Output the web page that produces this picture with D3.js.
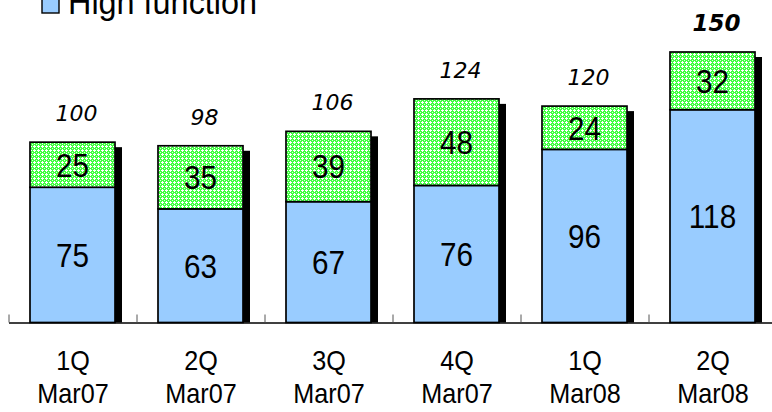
<!DOCTYPE html>
<html>
<head>
<meta charset="utf-8">
<script src="https://cdn.jsdelivr.net/npm/d3@7"></script>
<style>
  html, body { margin: 0; padding: 0; background: #fff; }
  svg { display: block; }
</style>
</head>
<body>
<svg id="chart" width="772" height="412"></svg>
<script>
// Quarterly counts, split into high-function (bottom) and the remainder (top)
const quarters = ["1Q", "2Q", "3Q", "4Q", "1Q", "2Q"];
const periods = ["Mar07", "Mar07", "Mar07", "Mar07", "Mar08", "Mar08"];
const highFunction = [75, 63, 67, 76, 96, 118];
const otherFunction = [25, 35, 39, 48, 24, 32];
const totals = [100, 98, 106, 124, 120, 150];

const svg = d3.select("#chart");
const keys = quarters.map((q, i) => i);

const x = d3.scaleBand().domain(keys).range([9, 777]).padding(0);
const y = d3.scaleLinear().domain([0, 150]).range([322.5, 52]);

const barOffset = 21, barWidth = 85;
const shadowDx = 7, shadowDy = 5;
const squeeze = 0.9; // horizontal condensing of the label type

// Lattice fill for the upper segment
const defs = svg.append("defs");
const pat = defs.append("pattern")
  .attr("id", "lattice")
  .attr("patternUnits", "userSpaceOnUse")
  .attr("width", 4).attr("height", 4);
pat.append("rect").attr("width", 4).attr("height", 4).attr("fill", "#40ff40");
pat.append("rect").attr("x", 1).attr("y", 2).attr("width", 3).attr("height", 1).attr("fill", "#ffffff");
pat.append("rect").attr("x", 2).attr("y", 1).attr("width", 1).attr("height", 3).attr("fill", "#ffffff");
pat.append("rect").attr("x", 0).attr("y", 0).attr("width", 1).attr("height", 1).attr("fill", "#d8ffd8");

const rows = keys.map(i => ({
  i, high: highFunction[i], other: otherFunction[i], total: totals[i]
}));

// Drop shadows
svg.append("g").selectAll("rect").data(rows).join("rect")
  .attr("x", d => x(d.i) + barOffset + shadowDx)
  .attr("y", d => y(d.high + d.other) + shadowDy)
  .attr("width", barWidth)
  .attr("height", d => y(0) - y(d.high + d.other) - shadowDy)
  .attr("fill", "#000");

// Lower segment
svg.append("g").selectAll("rect").data(rows).join("rect")
  .attr("x", d => x(d.i) + barOffset)
  .attr("y", d => y(d.high))
  .attr("width", barWidth)
  .attr("height", d => y(0) - y(d.high))
  .attr("fill", "#99ccff")
  .attr("stroke", "#000").attr("stroke-width", 1.7);

// Upper segment
svg.append("g").selectAll("rect").data(rows).join("rect")
  .attr("x", d => x(d.i) + barOffset)
  .attr("y", d => y(d.high + d.other))
  .attr("width", barWidth)
  .attr("height", d => y(d.high) - y(d.high + d.other))
  .attr("fill", "url(#lattice)")
  .attr("stroke", "#000").attr("stroke-width", 1.7);

// Axis line and ticks at band edges
svg.append("line")
  .attr("x1", x(0)).attr("x2", 772)
  .attr("y1", y(0) + 0.5).attr("y2", y(0) + 0.5)
  .attr("stroke", "#000").attr("stroke-width", 1.5);
svg.append("g").selectAll("line").data(keys).join("line")
  .attr("x1", d => x(d)).attr("x2", d => x(d))
  .attr("y1", y(0) - 8).attr("y2", y(0))
  .attr("stroke", "#555").attr("stroke-width", 1);

const segFont = "'Liberation Sans', Arial, sans-serif";

// Condensed text group: x coordinates are divided by the squeeze factor
const squeezed = svg.append("g").attr("transform", `scale(${squeeze},1)`);

// Segment labels
squeezed.append("g").selectAll("text").data(rows).join("text")
  .attr("x", d => (x(d.i) + barOffset + barWidth / 2) / squeeze)
  .attr("y", d => (y(d.high) + y(0)) / 2)
  .attr("dy", "0.36em")
  .attr("text-anchor", "middle")
  .attr("font-family", segFont).attr("font-size", 33)
  .text(d => d.high);
squeezed.append("g").selectAll("text").data(rows).join("text")
  .attr("x", d => (x(d.i) + barOffset + barWidth / 2) / squeeze)
  .attr("y", d => (y(d.high) + y(d.high + d.other)) / 2)
  .attr("dy", "0.36em")
  .attr("text-anchor", "middle")
  .attr("font-family", segFont).attr("font-size", 33)
  .text(d => d.other);

// Totals above bars; the latest quarter is emphasised
svg.append("g").selectAll("text").data(rows).join("text")
  .attr("x", d => x(d.i) + barOffset + barWidth / 2 + 4)
  .attr("y", d => y(d.total) - 21)
  .attr("text-anchor", "middle")
  .attr("font-family", "'DejaVu Sans', Verdana, sans-serif")
  .attr("font-style", "italic")
  .attr("font-weight", d => d.i === rows.length - 1 ? "bold" : "normal")
  .attr("font-size", d => d.i === rows.length - 1 ? 23 : 22)
  .text(d => d.total);

// Category labels
const cat = squeezed.append("g").selectAll("text").data(rows).join("text")
  .attr("text-anchor", "middle")
  .attr("font-family", segFont).attr("font-size", 28);
cat.append("tspan")
  .attr("x", d => (x(d.i) + x.bandwidth() / 2) / squeeze)
  .attr("y", 370)
  .text(d => quarters[d.i]);
cat.append("tspan")
  .attr("x", d => (x(d.i) + x.bandwidth() / 2) / squeeze)
  .attr("y", 403)
  .text(d => periods[d.i]);

// Legend (partially above the visible area)
svg.append("rect")
  .attr("x", 42).attr("y", -6).attr("width", 17).attr("height", 19)
  .attr("fill", "#99ccff").attr("stroke", "#000").attr("stroke-width", 1.4);
squeezed.append("text")
  .attr("x", 68 / squeeze).attr("y", 14)
  .attr("font-family", segFont).attr("font-size", 36)
  .text("High function");
</script>
</body>
</html>
